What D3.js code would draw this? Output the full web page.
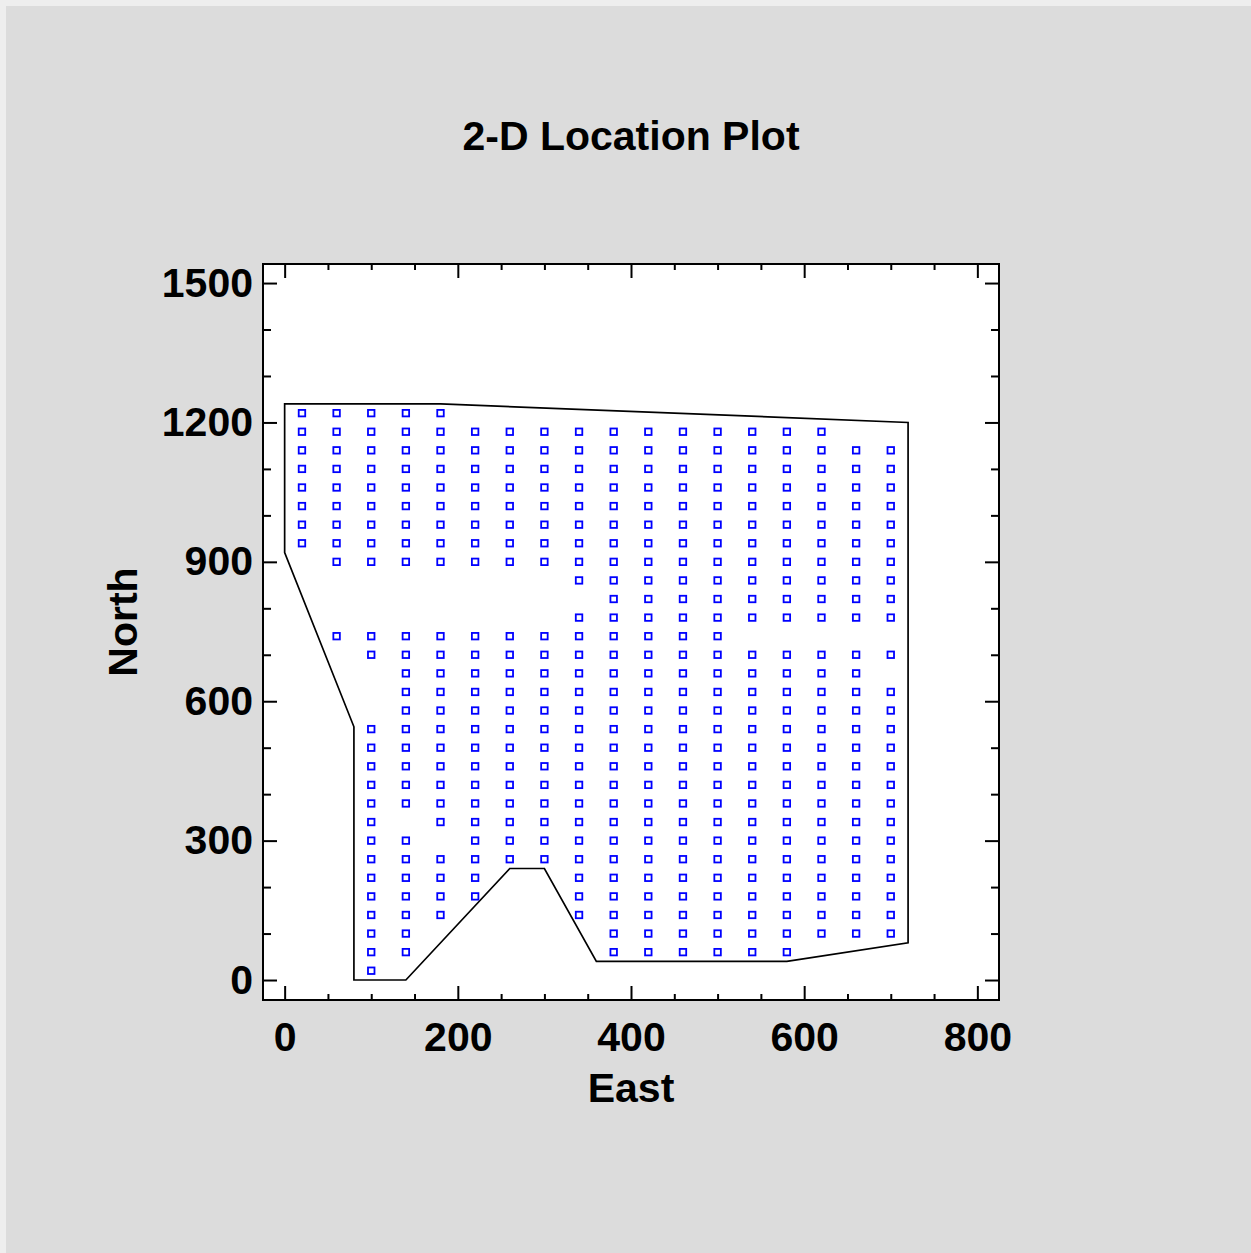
<!DOCTYPE html>
<html>
<head>
<meta charset="utf-8">
<script src="https://cdn.jsdelivr.net/npm/d3@7"></script>
<style>
  html, body { margin: 0; padding: 0; background: #eeeeee; }
  svg { display: block; }
  text { font-family: "Liberation Sans", Arial, sans-serif; font-weight: bold; fill: #000; }
</style>
</head>
<body>
<svg id="chart" width="1251" height="1253"></svg>
<script>
// ---- Data ----
const title = "2-D Location Plot";
const xLabel = "East";
const yLabel = "North";
const xMajorTicks = [0, 200, 400, 600, 800];
const xMinorTicks = [50, 100, 150, 250, 300, 350, 450, 500, 550, 650, 700, 750];
const yMajorTicks = [0, 300, 600, 900, 1200, 1500];
const yMinorTicks = [100, 200, 400, 500, 700, 800, 1000, 1100, 1300, 1400];

// sample locations: North value of each row, and the East values present in that row
const rowNorth = [1220, 1180, 1140, 1100, 1060, 1020, 980, 940, 900, 860, 820, 780, 740, 700, 660, 620,
                  580, 540, 500, 460, 420, 380, 340, 300, 260, 220, 180, 140, 100, 60, 20];
const rowEast = [
  [20, 60, 100, 140, 180],
  [20, 60, 100, 140, 180, 220, 260, 300, 340, 380, 420, 460, 500, 540, 580, 620],
  [20, 60, 100, 140, 180, 220, 260, 300, 340, 380, 420, 460, 500, 540, 580, 620, 660, 700],
  [20, 60, 100, 140, 180, 220, 260, 300, 340, 380, 420, 460, 500, 540, 580, 620, 660, 700],
  [20, 60, 100, 140, 180, 220, 260, 300, 340, 380, 420, 460, 500, 540, 580, 620, 660, 700],
  [20, 60, 100, 140, 180, 220, 260, 300, 340, 380, 420, 460, 500, 540, 580, 620, 660, 700],
  [20, 60, 100, 140, 180, 220, 260, 300, 340, 380, 420, 460, 500, 540, 580, 620, 660, 700],
  [20, 60, 100, 140, 180, 220, 260, 300, 340, 380, 420, 460, 500, 540, 580, 620, 660, 700],
  [60, 100, 140, 180, 220, 260, 300, 340, 380, 420, 460, 500, 540, 580, 620, 660, 700],
  [340, 380, 420, 460, 500, 540, 580, 620, 660, 700],
  [380, 420, 460, 500, 540, 580, 620, 660, 700],
  [340, 380, 420, 460, 500, 540, 580, 620, 660, 700],
  [60, 100, 140, 180, 220, 260, 300, 340, 380, 420, 460, 500],
  [100, 140, 180, 220, 260, 300, 340, 380, 420, 460, 500, 540, 580, 620, 660, 700],
  [140, 180, 220, 260, 300, 340, 380, 420, 460, 500, 540, 580, 620, 660],
  [140, 180, 220, 260, 300, 340, 380, 420, 460, 500, 540, 580, 620, 660, 700],
  [140, 180, 220, 260, 300, 340, 380, 420, 460, 500, 540, 580, 620, 660, 700],
  [100, 140, 180, 220, 260, 300, 340, 380, 420, 460, 500, 540, 580, 620, 660, 700],
  [100, 140, 180, 220, 260, 300, 340, 380, 420, 460, 500, 540, 580, 620, 660, 700],
  [100, 140, 180, 220, 260, 300, 340, 380, 420, 460, 500, 540, 580, 620, 660, 700],
  [100, 140, 180, 220, 260, 300, 340, 380, 420, 460, 500, 540, 580, 620, 660, 700],
  [100, 140, 180, 220, 260, 300, 340, 380, 420, 460, 500, 540, 580, 620, 660, 700],
  [100, 180, 220, 260, 300, 340, 380, 420, 460, 500, 540, 580, 620, 660, 700],
  [100, 140, 220, 260, 300, 340, 380, 420, 460, 500, 540, 580, 620, 660, 700],
  [100, 140, 180, 220, 260, 300, 340, 380, 420, 460, 500, 540, 580, 620, 660, 700],
  [100, 140, 180, 220, 340, 380, 420, 460, 500, 540, 580, 620, 660, 700],
  [100, 140, 180, 220, 340, 380, 420, 460, 500, 540, 580, 620, 660, 700],
  [100, 140, 180, 340, 380, 420, 460, 500, 540, 580, 620, 660, 700],
  [100, 140, 380, 420, 460, 500, 540, 580, 620, 660, 700],
  [100, 140, 380, 420, 460, 500, 540, 580],
  [100]
];

// boundary polygon of the site
const boundaryEast  = [0, 180, 720, 720, 580, 360, 300, 260, 140, 80, 80, 0];
const boundaryNorth = [1240, 1240, 1200, 80, 40, 40, 240, 240, 0, 0, 545, 920];

// ---- Layout ----
const W = 1251, H = 1253;
const plot = { left: 263, right: 999, top: 264, bottom: 1000 };

const svg = d3.select("#chart");
svg.append("rect").attr("x", 6).attr("y", 6).attr("width", W - 6).attr("height", H - 6).attr("fill", "#dcdcdc");

const x = d3.scaleLinear().domain([-25, 825]).range([plot.left, plot.right]);
const y = d3.scaleLinear().domain([-43, 1541]).range([plot.bottom, plot.top]);

// plot background
svg.append("rect")
  .attr("x", plot.left).attr("y", plot.top)
  .attr("width", plot.right - plot.left).attr("height", plot.bottom - plot.top)
  .attr("fill", "#ffffff");

const fontSize = 41;

function styleAxis(g) {
  g.select(".domain").remove();
  g.selectAll(".tick line").attr("stroke", "#000").attr("stroke-width", 2);
  g.selectAll("text").attr("font-size", fontSize).attr("font-family", null).attr("fill", "#000");
}

// Bottom axis
svg.append("g").attr("transform", `translate(0,${plot.bottom})`)
  .call(d3.axisBottom(x).tickValues(xMajorTicks).tickSize(-14).tickPadding(21.5).tickFormat(d3.format("d")))
  .call(styleAxis);
svg.append("g").attr("transform", `translate(0,${plot.bottom})`)
  .call(d3.axisBottom(x).tickValues(xMinorTicks).tickSize(-6).tickFormat(""))
  .call(styleAxis);
// Top axis
svg.append("g").attr("transform", `translate(0,${plot.top})`)
  .call(d3.axisTop(x).tickValues(xMajorTicks).tickSize(-14).tickFormat(""))
  .call(styleAxis);
svg.append("g").attr("transform", `translate(0,${plot.top})`)
  .call(d3.axisTop(x).tickValues(xMinorTicks).tickSize(-6).tickFormat(""))
  .call(styleAxis);
// Left axis
svg.append("g").attr("transform", `translate(${plot.left},0)`)
  .call(d3.axisLeft(y).tickValues(yMajorTicks).tickSize(-14).tickPadding(10).tickFormat(d3.format("d")))
  .call(styleAxis);
svg.append("g").attr("transform", `translate(${plot.left},0)`)
  .call(d3.axisLeft(y).tickValues(yMinorTicks).tickSize(-8).tickFormat(""))
  .call(styleAxis);
// Right axis
svg.append("g").attr("transform", `translate(${plot.right},0)`)
  .call(d3.axisRight(y).tickValues(yMajorTicks).tickSize(-14).tickFormat(""))
  .call(styleAxis);
svg.append("g").attr("transform", `translate(${plot.right},0)`)
  .call(d3.axisRight(y).tickValues(yMinorTicks).tickSize(-8).tickFormat(""))
  .call(styleAxis);

// frame
svg.append("rect")
  .attr("x", plot.left).attr("y", plot.top)
  .attr("width", plot.right - plot.left).attr("height", plot.bottom - plot.top)
  .attr("fill", "none").attr("stroke", "#000").attr("stroke-width", 2);

// boundary polygon
const boundary = boundaryEast.map((e, i) => [e, boundaryNorth[i]]);
svg.append("path")
  .datum(boundary)
  .attr("d", d3.line().x(d => x(d[0])).y(d => y(d[1])).curve(d3.curveLinearClosed))
  .attr("fill", "none").attr("stroke", "#000").attr("stroke-width", 1.7)
  .attr("stroke-linejoin", "miter");

// sample points
const points = [];
rowNorth.forEach((n, i) => rowEast[i].forEach(e => points.push({ east: e, north: n })));
const ms = 6.5;
svg.append("g").selectAll("rect").data(points).join("rect")
  .attr("x", d => x(d.east) - ms / 2)
  .attr("y", d => y(d.north) - ms / 2)
  .attr("width", ms).attr("height", ms)
  .attr("fill", "none").attr("stroke", "#0000ff").attr("stroke-width", 1.8);

// title and axis labels
const cx = (plot.left + plot.right) / 2;
svg.append("text").attr("x", cx).attr("y", 149.5).attr("text-anchor", "middle")
  .attr("font-size", fontSize).text(title);
svg.append("text").attr("x", cx).attr("y", 1101.5).attr("text-anchor", "middle")
  .attr("font-size", fontSize).text(xLabel);
svg.append("text").attr("transform", `translate(136.5,${(plot.top + plot.bottom) / 2 - 10}) rotate(-90)`)
  .attr("text-anchor", "middle").attr("font-size", fontSize).text(yLabel);
</script>
</body>
</html>
